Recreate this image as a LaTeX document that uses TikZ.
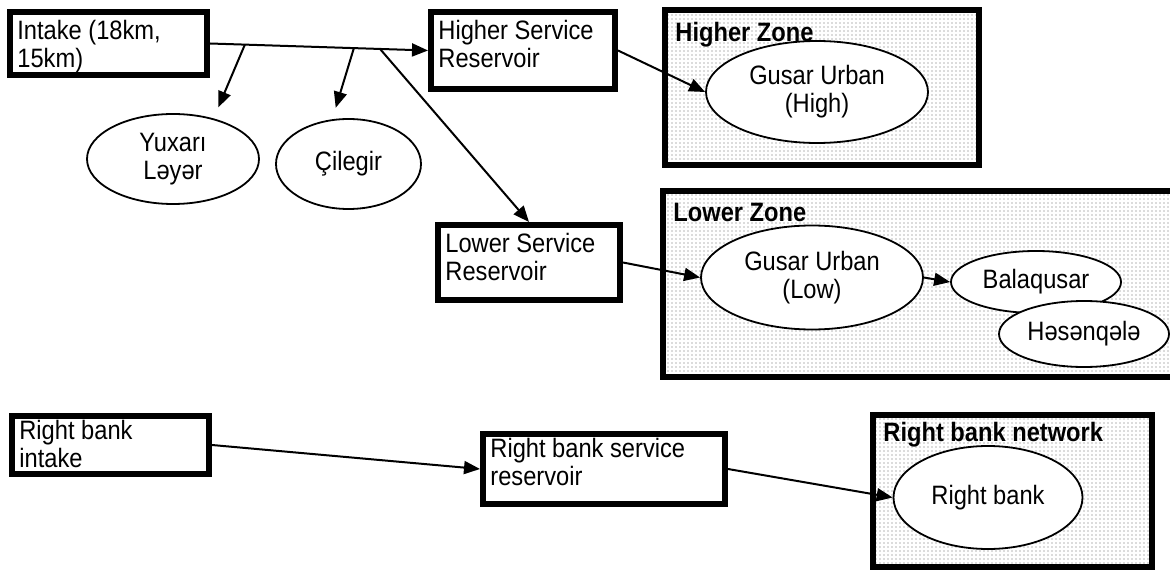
\documentclass[tikz,border=0pt]{standalone}
\usepackage{fontspec}
\setmainfont{Liberation Sans}[FakeStretch=0.89]
\usetikzlibrary{shapes.geometric, arrows.meta, patterns.meta}
\tikzstyle{block} = [rectangle, draw, line width=3pt, fill=white, inner sep=0pt]
\tikzstyle{zone} = [rectangle, draw, line width=3pt, inner sep=0pt,
pattern={Dots[distance=2pt, radius=0.35pt]}, pattern color=black!60]
\tikzstyle{place} = [ellipse, draw, line width=0.9pt, fill=white, align=center, inner sep=0pt]
\tikzstyle{tag} = [anchor=north west, align=left, inner xsep=5pt, inner ysep=5.5pt]
\tikzstyle{zonetag} = [tag, font=\bfseries, inner xsep=6.5pt, inner ysep=7.5pt]
\tikzstyle{line} = [draw, line width=1pt, -{Triangle[length=8pt, width=6.5pt]}]

\begin{document}
\fontsize{13.3}{14}\selectfont
\begin{tikzpicture}[x=0.5pt, y=-0.5pt]
    \useasboundingbox (0,0) rectangle (1170,571);

    % zones
    \node [zone, minimum width=157pt, minimum height=77.5pt,
      label={[zonetag]north west:Higher Zone}] (highzone) at (822,87.5) {};
    \node [zone, minimum width=257pt, minimum height=93pt,
      label={[zonetag]north west:Lower Zone}] (lowzone) at (920,284) {};
    \node [zone, minimum width=139.5pt, minimum height=76pt,
      label={[zonetag, inner ysep=5pt]north west:Right bank network}] (rightzone) at (1012.5,491) {};

    % boxes
    \node [block, minimum width=98.5pt, minimum height=31.5pt,
      label={[tag]north west:{Intake (18km,\\15km)}}] (intake) at (108.5,43.5) {};
    \node [block, minimum width=92pt, minimum height=38.5pt,
      label={[tag]north west:{Higher Service\\Reservoir}}] (highres) at (523,50.5) {};
    \node [block, minimum width=91pt, minimum height=37.5pt,
      label={[tag]north west:{Lower Service\\Reservoir}}] (lowres) at (529,262.5) {};
    \node [block, minimum width=98.5pt, minimum height=29pt,
      label={[tag, inner ysep=3.5pt]north west:{Right bank\\intake}}] (rightintake) at (110.5,445) {};
    \node [block, minimum width=121pt, minimum height=35pt,
      label={[tag, inner ysep=3.5pt]north west:{Right bank service\\reservoir}}] (rightres) at (604,469) {};

    % settlements
    \node [place, minimum width=86pt, minimum height=45pt] (yuxari) at (173,159) {Yuxarı\\Ləyər};
    \node [place, minimum width=72.5pt, minimum height=45pt] (cilegir) at (348.5,164) {Çilegir};
    \node [place, minimum width=111pt, minimum height=51pt] (gusarhigh) at (817,92) {Gusar Urban\\(High)};
    \node [place, minimum width=111pt, minimum height=52pt] (gusarlow) at (812,277.5) {Gusar Urban\\(Low)};
    \node [place, minimum width=85pt, minimum height=31pt] (balaqusar) at (1036,282) {Balaqusar};
    \node [place, minimum width=85pt, minimum height=33pt] (hasanqala) at (1084,334) {Həsənqələ};
    \node [place, minimum width=94.5pt, minimum height=51.5pt] (rightbank) at (988,497.5) {Right bank};

    % arrows
    \draw [line] (intake.east) -- coordinate[pos=0.16] (fork1) coordinate[pos=0.66] (fork2)
      coordinate[pos=0.78] (fork3) (highres.west);
    \draw [line, shorten >=6pt] (fork1) -- (yuxari.45);
    \draw [line, shorten >=6pt] (fork2) -- (cilegir.110);
    \draw [line] (fork3) -- (lowres.north);
    \draw [line] (highres.east) -- (gusarhigh.west);
    \draw [line] (lowres.east) -- (gusarlow.west);
    \draw [line] (gusarlow.east) -- (balaqusar.west);
    \draw [line] (rightintake.east) -- (rightres.west);
    \draw [line] (rightres.east) -- (rightbank.west);

\end{tikzpicture}
\end{document}
